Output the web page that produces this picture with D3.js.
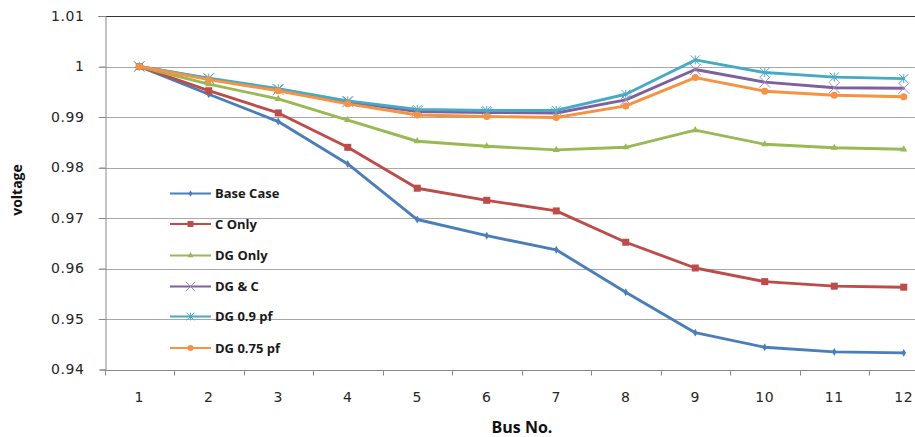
<!DOCTYPE html>
<html>
<head>
<meta charset="utf-8">
<script src="https://cdn.jsdelivr.net/npm/d3@7"></script>
<style>
  html, body { margin: 0; padding: 0; background: #fff; }
  svg { display: block; }
  .tick-label { font-family: "DejaVu Sans", Verdana, sans-serif; font-size: 14px; fill: #262626; letter-spacing: 0.6px; }
  .axis-title { font-family: "Open Sans", "Liberation Sans", sans-serif; font-weight: bold; fill: #111; }
  .legend-text { font-family: "Open Sans", "Liberation Sans", sans-serif; font-weight: bold; font-size: 13px; fill: #1a1a1a; }
</style>
</head>
<body>
<svg id="chart" width="915" height="437"></svg>
<script>
// Bus numbers along the feeder
const buses = [1, 2, 3, 4, 5, 6, 7, 8, 9, 10, 11, 12];

// Bus voltage (p.u.) for each operating case
const baseCase = [1.0, 0.9945, 0.9891, 0.9807, 0.9697, 0.9665, 0.9637, 0.9553, 0.9473, 0.9444, 0.9435, 0.9433];
const cOnly    = [1.0, 0.9952, 0.9908, 0.9840, 0.9759, 0.9735, 0.9714, 0.9652, 0.9601, 0.9574, 0.9565, 0.9563];
const dgOnly   = [1.0, 0.9965, 0.9936, 0.9894, 0.9852, 0.9842, 0.9835, 0.9840, 0.9874, 0.9846, 0.9839, 0.9836];
const dgAndC   = [1.0, 0.9976, 0.9954, 0.9930, 0.9911, 0.9909, 0.9908, 0.9934, 0.9994, 0.9969, 0.9958, 0.9957];
const dg09pf   = [1.0, 0.9977, 0.9956, 0.9932, 0.9915, 0.9913, 0.9913, 0.9945, 1.0013, 0.9988, 0.9979, 0.9976];
const dg075pf  = [1.0, 0.9974, 0.9952, 0.9926, 0.9904, 0.9901, 0.9899, 0.9922, 0.9978, 0.9951, 0.9943, 0.9940];

const seriesNames = ["Base Case", "C Only", "DG Only", "DG & C", "DG 0.9 pf", "DG 0.75 pf"];
const seriesValues = [baseCase, cOnly, dgOnly, dgAndC, dg09pf, dg075pf];

const yTicks = [0.94, 0.95, 0.96, 0.97, 0.98, 0.99, 1, 1.01];

const colors = ["#4a7ebb", "#be4b48", "#98b954", "#7d60a0", "#46aac5", "#f69240"];
const markerKinds = ["diamond", "square", "triangle", "cross", "asterisk", "circle"];

const svg = d3.select("#chart");

// Plot area (the category axis runs past the right edge of the canvas)
const plot = { left: 104.5, right: 938.5, top: 16, bottom: 369.5 };

const x = d3.scaleBand().domain(buses).range([plot.left, plot.right]).paddingInner(0).paddingOuter(0);
const xc = d => x(d) + x.bandwidth() / 2;
const y = d3.scaleLinear().domain([0.94, 1.01]).range([plot.bottom, plot.top]);

// Horizontal gridlines
const grid = svg.append("g");
grid.selectAll("line").data(yTicks.filter(t => t < 1.005 && t > 0.945)).join("line")
  .attr("x1", plot.left - 6).attr("x2", 915)
  .attr("y1", d => Math.round(y(d)) + 0.5).attr("y2", d => Math.round(y(d)) + 0.5)
  .attr("stroke", "#a8a8a8").attr("stroke-width", 1);

// Top border of the plot area
svg.append("line")
  .attr("x1", plot.left - 6).attr("x2", 915)
  .attr("y1", Math.round(y(1.01)) + 0.5).attr("y2", Math.round(y(1.01)) + 0.5)
  .attr("stroke", "#333").attr("stroke-width", 1.2);

// Y axis
const yAxis = d3.axisLeft(y).tickValues(yTicks).tickSize(6).tickPadding(15)
  .tickFormat(d => d3.format("")(+d.toFixed(2)));
const yg = svg.append("g").attr("transform", `translate(${Math.round(plot.left) + 0.5},0)`).call(yAxis);
yg.select(".domain").attr("stroke", "#888");
yg.selectAll(".tick line").attr("stroke", "#888");
yg.selectAll(".tick text").attr("class", "tick-label").attr("font-size", null).attr("font-family", null);

// X axis: ticks sit between categories
const xg = svg.append("g").attr("transform", `translate(0,${Math.round(plot.bottom) + 0.5})`);
xg.append("line").attr("x1", plot.left).attr("x2", 915).attr("y1", 0).attr("y2", 0).attr("stroke", "#888");
const edges = d3.range(buses.length + 1).map(i => plot.left + i * x.step());
xg.selectAll("line.tk").data(edges).join("line").attr("class", "tk")
  .attr("x1", d => Math.round(d) + 0.5).attr("x2", d => Math.round(d) + 0.5)
  .attr("y1", 0).attr("y2", 5).attr("stroke", "#888");
xg.selectAll("text").data(buses).join("text")
  .attr("class", "tick-label")
  .attr("x", d => xc(d)).attr("y", 31)
  .attr("text-anchor", "middle")
  .text(d => d);

// Axis titles
svg.append("text").attr("class", "axis-title")
  .attr("font-size", 14)
  .attr("transform", "translate(22,190) rotate(-90)")
  .attr("text-anchor", "middle")
  .text("voltage");
svg.append("text").attr("class", "axis-title")
  .attr("font-size", 16)
  .attr("x", 522).attr("y", 433)
  .attr("text-anchor", "middle")
  .text("Bus No.");

// Marker drawing
function drawMarker(g, kind, color, size) {
  const s = size;
  switch (kind) {
    case "diamond":
      g.append("path").attr("d", d3.symbol(d3.symbolDiamond, s * s * 0.5)()).attr("fill", color);
      break;
    case "square":
      g.append("rect").attr("x", -s / 2).attr("y", -s / 2).attr("width", s).attr("height", s).attr("fill", color);
      break;
    case "triangle":
      g.append("path").attr("d", d3.symbol(d3.symbolTriangle, s * s * 0.45)()).attr("fill", color);
      break;
    case "cross":
      g.append("path").attr("d", `M${-s / 2},${-s / 2}L${s / 2},${s / 2}M${-s / 2},${s / 2}L${s / 2},${-s / 2}`)
        .attr("stroke", "#a08cc4").attr("stroke-width", 1).attr("fill", "none");
      break;
    case "asterisk":
      g.append("path").attr("d", `M${-s / 2},${-s / 2}L${s / 2},${s / 2}M${-s / 2},${s / 2}L${s / 2},${-s / 2}M0,${-s / 2}L0,${s / 2}`)
        .attr("stroke", color).attr("stroke-width", 1).attr("fill", "none");
      break;
    case "circle":
      g.append("circle").attr("r", s / 2).attr("fill", color);
      break;
  }
}
const markerSizes = [6, 7, 7, 11, 9, 7];

// Series lines and markers
const line = d3.line().x((d, i) => xc(buses[i])).y(d => y(d));
seriesValues.forEach((vals, k) => {
  const g = svg.append("g");
  g.append("path").datum(vals)
    .attr("d", line).attr("fill", "none")
    .attr("stroke", colors[k]).attr("stroke-width", 2.9)
    .attr("stroke-linejoin", "round").attr("stroke-linecap", "round");
  vals.forEach((v, i) => {
    const mg = g.append("g").attr("transform", `translate(${xc(buses[i])},${y(v)})`);
    drawMarker(mg, markerKinds[k], colors[k], markerSizes[k]);
  });
});

// Legend
const legendY = [193.5, 224, 255.5, 286.5, 316.5, 348];
const legend = svg.append("g");
seriesNames.forEach((name, k) => {
  const g = legend.append("g").attr("transform", `translate(0,${legendY[k]})`);
  g.append("line").attr("x1", 170).attr("x2", 211).attr("y1", 0).attr("y2", 0)
    .attr("stroke", colors[k]).attr("stroke-width", 2);
  const mg = g.append("g").attr("transform", "translate(190.5,0)");
  drawMarker(mg, markerKinds[k], colors[k], markerSizes[k] * 0.85);
  g.append("text").attr("class", "legend-text").attr("x", 215).attr("y", 4.5).text(name);
});
</script>
</body>
</html>
